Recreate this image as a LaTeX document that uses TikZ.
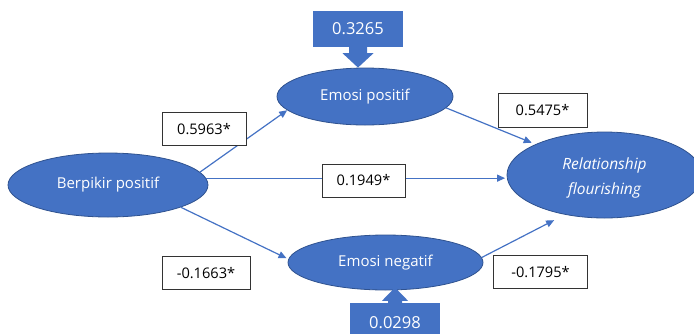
\documentclass[tikz,border=0pt]{standalone}
\usepackage{fontspec}
\setmainfont{Open Sans}
\usetikzlibrary{shapes.geometric,arrows.meta,calc}
\definecolor{ob}{HTML}{4472C4}
\definecolor{obd}{HTML}{2F528F}
\begin{document}
\begin{tikzpicture}[x=1pt,y=-1pt,
  latent/.style={ellipse,fill=ob,draw=obd,line width=0.8pt,text=white,inner sep=0pt,font=\fontsize{15}{22}\selectfont},
  coef/.style={draw=black!80,fill=white,line width=0.9pt,minimum height=33pt,inner sep=0pt,font=\fontsize{14.6}{16}\selectfont},
  link/.style={draw=ob,line width=1.2pt,-{Triangle[length=8pt,width=7pt]}},
  callout/.style={fill=ob,text=white,inner sep=0pt,font=\fontsize{16.5}{18}\selectfont},
  pointer/.style={fill=ob}
]
\useasboundingbox (0,0) rectangle (694,333);

% latent variables
\node[latent,minimum width=200pt,minimum height=64pt] (bp) at (108,185) {Berpikir positif};
\node[latent,minimum width=176pt,minimum height=57pt] (ep) at (365,96.5) {Emosi positif};
\node[latent,minimum width=195pt,minimum height=55pt] (en) at (385.5,262.5) {Emosi negatif};
\node[latent,minimum width=195pt,minimum height=86pt,align=center,font=\fontsize{15.5}{25}\selectfont\itshape] (rf) at (604.5,175) {};
\node[text=white,align=center,font=\fontsize{15.5}{25}\selectfont\itshape,inner sep=0pt] (rft) at ($(rf.center)+(0,3)$) {Relationship\\flourishing};

% paths
\draw[link] (bp.8) -- (ep.190);
\draw[link,shorten >=1.5pt] (bp.4) -- (bp.4 -| rf.west);
\draw[link,shorten >=2pt] (bp.343) -- (en.178);
\draw[link,shorten >=4pt] (ep.352) -- (rf.156);
\draw[link,shorten >=12pt] (en.3) -- (rf.225);

% coefficients
\node[coef,minimum width=84pt] (k1) at (204,129) {0.5963*};
\node[coef,minimum width=83pt] (k2) at (363.5,180.5) {0.1949*};
\node[coef,minimum width=89pt,minimum height=34pt] (k3) at (542.5,110) {0.5475*};
\node[coef,minimum width=88pt] (k4) at (206,273) {-0.1663*};
\node[coef,minimum width=94pt] (k5) at (540.5,272) {-0.1795*};

% R-square callouts
\node[callout,minimum width=90pt,minimum height=36pt] (c1) at (358,29) {0.3265};
\fill[pointer] ($(c1.south)+(-9,-1)$) -- ($(c1.south)+(-9,6)$) -- ($(c1.south)+(-15.5,6)$)
  -- (c1.south |- ep.north) -- ($(c1.south)+(15.5,6)$) -- ($(c1.south)+(9,6)$) -- ($(c1.south)+(9,-1)$) -- cycle;

\node[callout,minimum width=90pt,minimum height=40pt] (c2) at (395,323) {0.0298};
\fill[pointer] ($(c2.north)+(-7,1)$) -- ($(c2.north)+(-7,-2)$) -- ($(c2.north)+(-13,-2)$)
  -- ($(c2.north |- en.south)+(0,-3)$) -- ($(c2.north)+(13,-2)$) -- ($(c2.north)+(7,-2)$) -- ($(c2.north)+(7,1)$) -- cycle;
\end{tikzpicture}
\end{document}
